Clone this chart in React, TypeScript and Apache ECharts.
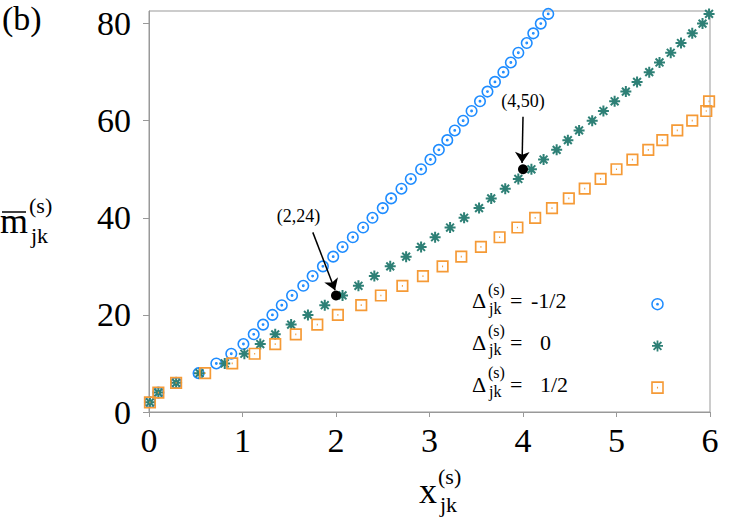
import { useEffect, useRef } from 'react';
import * as echarts from 'echarts';

// m values (vertical) for each series
const mBlue = [2, 4, 6, 8, 10, 12, 14, 16, 18, 20, 22, 24, 26, 28, 30, 32, 34, 36, 38, 40, 42, 44, 46, 48, 50, 52, 54, 56, 58, 60, 62, 64, 66, 68, 70, 72, 74, 76, 78, 80, 82];
const xBlue = [0.01, 0.10, 0.29, 0.53, 0.72, 0.88, 1.01, 1.12, 1.22, 1.32, 1.42, 1.53, 1.65, 1.75, 1.86, 1.97, 2.07, 2.18, 2.29, 2.39, 2.50, 2.59, 2.70, 2.80, 2.91, 3.01, 3.10, 3.19, 3.27, 3.36, 3.45, 3.54, 3.62, 3.70, 3.79, 3.87, 3.95, 4.04, 4.11, 4.19, 4.27];

const mGreen = [2, 4, 6, 8, 10, 12, 14, 16, 18, 20, 22, 24, 26, 28, 30, 32, 34, 36, 38, 40, 42, 44, 46, 48, 50, 52, 54, 56, 58, 60, 62, 64, 66, 68, 70, 72, 74, 76, 78, 80, 82];
const xGreen = [0.01, 0.10, 0.29, 0.54, 0.81, 1.02, 1.19, 1.35, 1.52, 1.70, 1.88, 2.07, 2.24, 2.41, 2.58, 2.75, 2.91, 3.06, 3.22, 3.37, 3.53, 3.66, 3.81, 3.95, 4.09, 4.22, 4.36, 4.48, 4.60, 4.74, 4.86, 4.98, 5.10, 5.22, 5.35, 5.46, 5.58, 5.69, 5.81, 5.92, 5.99];

const mOrange = [2, 4, 6, 8, 10, 12, 14, 16, 18, 20, 22, 24, 26, 28, 30, 32, 34, 36, 38, 40, 42, 44, 46, 48, 50, 52, 54, 56, 58, 60, 62, 64];
const xOrange = [0.01, 0.10, 0.29, 0.60, 0.89, 1.13, 1.35, 1.57, 1.80, 2.02, 2.27, 2.48, 2.71, 2.93, 3.14, 3.34, 3.55, 3.75, 3.94, 4.13, 4.31, 4.49, 4.66, 4.83, 5.00, 5.17, 5.34, 5.49, 5.65, 5.81, 5.96, 5.99];

const seriesNames = ['-1/2', '0', '1/2'];
const xTicks = [0, 1, 2, 3, 4, 5, 6];
const yTicks = [0, 20, 40, 60, 80];

const annotPoints = [[2, 24], [4, 50]];
const annotLabels = ['(2,24)', '(4,50)'];

const FONT = 'Liberation Serif';
const BLUE = '#1e8cff';
const GREEN = '#2e8076';
const ORANGE = '#f59a36';
const COLORS = [BLUE, GREEN, ORANGE];

const circlePath = 'path://M1,0A1,1,0,1,1,-1,0A1,1,0,1,1,1,0ZM0.12,0A0.12,0.12,0,1,1,-0.12,0A0.12,0.12,0,1,1,0.12,0Z';
const squarePath = 'path://M-1,-1L1,-1L1,1L-1,1ZM-0.1,0L0.1,0';
const starPath = 'path://M0,-1L0,1M-1,0L1,0M-0.71,-0.71L0.71,0.71M-0.71,0.71L0.71,-0.71';

function zip(xs: number[], ys: number[]) {
  return xs.map((x, i) => [x, ys[i]]);
}

function txt(text: string, x: number, y: number, size: number, align = 'left') {
  return {
    type: 'text',
    x,
    y,
    silent: true,
    style: {
      text,
      fill: '#000',
      fontSize: size,
      fontFamily: FONT,
      textAlign: align,
      textVerticalAlign: 'middle',
      align,
      verticalAlign: 'middle',
    },
  };
}

export default function App() {
  const ref = useRef<HTMLDivElement>(null);
  useEffect(() => {
    if (!ref.current) return;
    const chart = echarts.init(ref.current, null, { renderer: 'svg' });

    const legendRows = [301.7, 343.4, 385.1];
    const legendValX = [531, 540, 540];
    const legendBorder = [1.5, 1.8, 1.6];
    const legendGraphics: any[] = [];
    legendRows.forEach((yc, i) => {
      legendGraphics.push(txt('Δ', 472, yc - 1, 22));
      legendGraphics.push(txt('(s)', 488, yc - 12.5, 16));
      legendGraphics.push(txt('jk', 489, yc + 6.5, 16));
      legendGraphics.push(txt('=', 510, yc - 1, 22));
      legendGraphics.push(txt(seriesNames[i], legendValX[i], yc - 1, 22));
    });

    const legends = legendRows.map((yc, i) => ({
      orient: 'vertical',
      left: 649.5,
      top: yc - 5.5,
      padding: 0,
      itemWidth: 11,
      itemHeight: 11,
      selectedMode: false,
      formatter: () => '',
      textStyle: { fontSize: 1 },
      data: [{ name: seriesNames[i], itemStyle: { color: 'none', borderColor: COLORS[i], borderWidth: legendBorder[i], opacity: 1 } }],
    }));

    const option: any = {
      animation: false,
      backgroundColor: '#fff',
      textStyle: { fontFamily: FONT },
      grid: {
        left: 149,
        right: 37,
        top: 11,
        bottom: 111,
        show: true,
        borderColor: '#999',
        borderWidth: 1,
        backgroundColor: 'transparent',
        containLabel: false,
        outerBoundsMode: 'none',
      },
      xAxis: {
        type: 'value',
        min: xTicks[0],
        max: xTicks[xTicks.length - 1],
        interval: 1,
        splitLine: { show: false },
        axisLine: { show: true, onZero: false, lineStyle: { color: '#999', width: 1 } },
        axisTick: { show: true, inside: false, length: 5, lineStyle: { color: '#999' } },
        axisLabel: { color: '#000', fontFamily: FONT, fontSize: 34, margin: 11 },
      },
      yAxis: {
        type: 'value',
        min: yTicks[0],
        max: 82.6,
        interval: 20,
        splitLine: { show: false },
        axisLine: { show: true, onZero: false, lineStyle: { color: '#999', width: 1 } },
        axisTick: { show: true, inside: false, length: 6, lineStyle: { color: '#999' } },
        axisLabel: {
          color: '#000',
          fontFamily: FONT,
          fontSize: 34,
          margin: 18,
          showMaxLabel: false,
          formatter: (v: number) => (yTicks.includes(v) ? String(v) : ''),
        },
      },
      legend: legends,
      series: [
        {
          name: seriesNames[0],
          type: 'scatter',
          data: zip(xBlue, mBlue),
          symbol: circlePath,
          symbolSize: 10.5,
          itemStyle: { color: 'none', borderColor: BLUE, borderWidth: 1.6, opacity: 1 },
          silent: true,
          z: 2,
        },
        {
          name: seriesNames[1],
          type: 'scatter',
          data: zip(xGreen, mGreen),
          symbol: starPath,
          symbolSize: 11,
          itemStyle: { color: 'none', borderColor: GREEN, borderWidth: 2, opacity: 1 },
          silent: true,
          z: 3,
        },
        {
          name: seriesNames[2],
          type: 'scatter',
          data: zip(xOrange, mOrange),
          symbol: squarePath,
          symbolSize: 10.5,
          itemStyle: { color: 'none', borderColor: ORANGE, borderWidth: 1.7, opacity: 1 },
          silent: true,
          z: 4,
        },
        {
          name: 'annot',
          type: 'scatter',
          data: annotPoints,
          symbol: 'circle',
          symbolSize: 10,
          itemStyle: { color: '#000', opacity: 1 },
          silent: true,
          z: 5,
          markLine: {
            silent: true,
            symbol: ['none', 'arrow'],
            symbolSize: 11,
            lineStyle: { color: '#000', width: 1.5, type: 'solid', opacity: 1 },
            itemStyle: { color: '#000' },
            label: { show: false },
            data: [
              [{ coord: [1.752, 37.0] }, { coord: [annotPoints[0][0] - 0.01, annotPoints[0][1] + 1.1] }],
              [{ coord: [4.0, 60.8] }, { coord: [annotPoints[1][0] - 0.01, annotPoints[1][1] + 1.3] }],
            ],
          },
          markPoint: {
            silent: true,
            symbol: 'circle',
            symbolSize: 1,
            itemStyle: { color: 'transparent' },
            label: { show: true, position: 'inside', color: '#000', fontFamily: FONT, fontSize: 18 },
            data: [
              { coord: [1.60, 40.4], label: { formatter: annotLabels[0] } },
              { coord: [4.0, 64.1], label: { formatter: annotLabels[1] } },
            ],
          },
        },
      ],
      graphic: [
        txt('(b)', 2, 18, 34),
        // y axis title
        txt('m', 0, 221, 36),
        { type: 'line', silent: true, shape: { x1: 2, y1: 212, x2: 26, y2: 212 }, style: { stroke: '#000', lineWidth: 1.5 } },
        txt('(s)', 29, 205.5, 22),
        txt('jk', 31, 235.5, 22),
        // x axis title
        txt('x', 419, 491, 36),
        txt('(s)', 438, 476, 22),
        txt('jk', 440, 504.5, 22),
        ...legendGraphics,
      ],
    };
    chart.setOption(option);
    return () => chart.dispose();
  }, []);
  return <div ref={ref} style={{ position: 'fixed', left: 0, top: 0, width: 747, height: 523 }} />;
}
